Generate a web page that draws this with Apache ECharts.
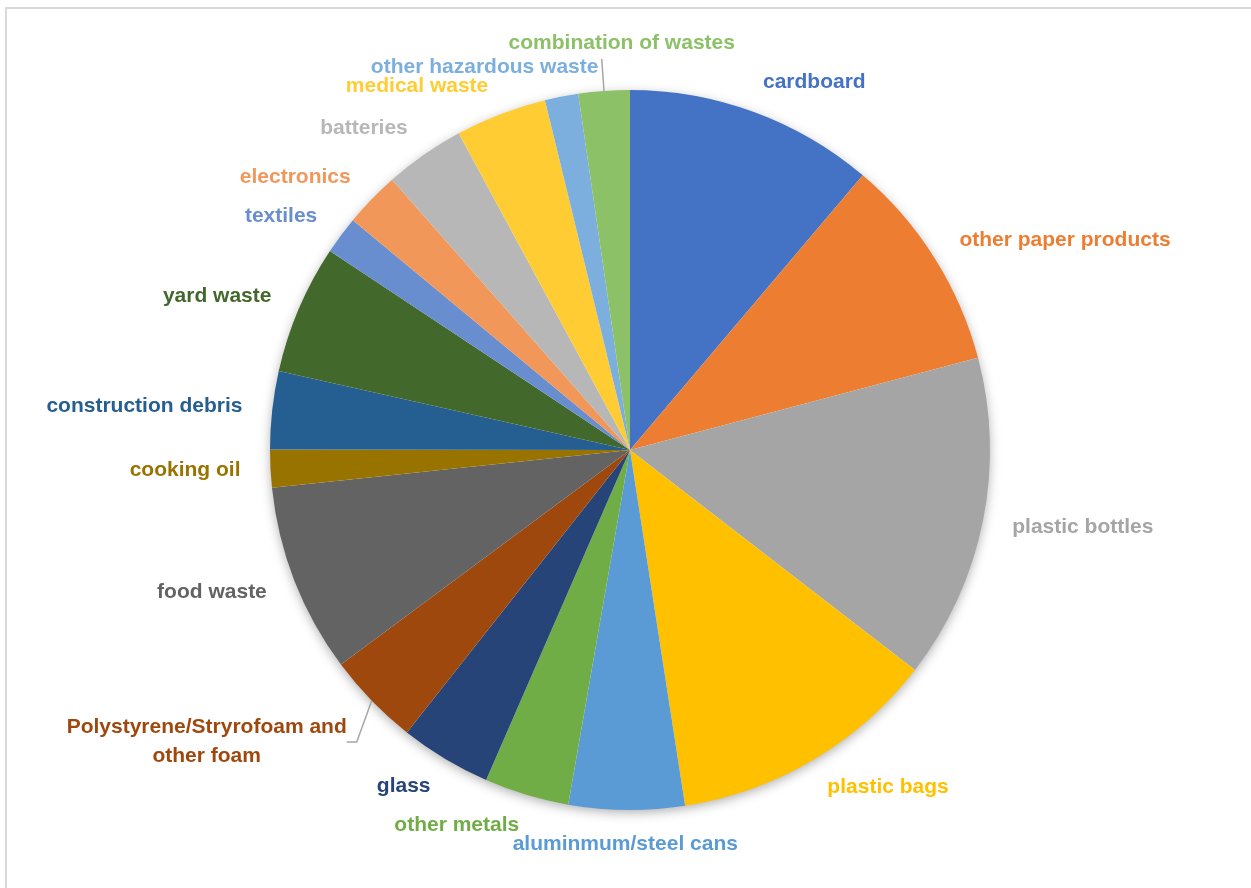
<!DOCTYPE html>
<html>
<head>
<meta charset="utf-8">
<script src="https://cdn.jsdelivr.net/npm/echarts@6/dist/echarts.min.js"></script>
<style>
html, body { margin: 0; padding: 0; background: #ffffff; }
body { width: 1251px; height: 888px; overflow: hidden; position: relative; }
#frame { position: absolute; left: 5px; top: 7px; width: 1300px; height: 1000px; border: 2px solid #d9d9d9; box-sizing: border-box; }
#chart { position: absolute; left: 0; top: 0; width: 1251px; height: 888px; }
</style>
</head>
<body>
<div id="frame"></div>
<div id="chart"></div>
<script>
// ---- data (share of total, %) ----
const categories = [
  'cardboard', 'other paper products', 'plastic bottles', 'plastic bags',
  'aluminmum/steel cans', 'other metals', 'glass',
  'Polystyrene/Stryrofoam and other foam', 'food waste', 'cooking oil',
  'construction debris', 'yard waste', 'textiles', 'electronics',
  'batteries', 'medical waste', 'other hazardous waste', 'combination of wastes'
];
const values = [11.2, 9.7, 14.6, 12.1, 5.2, 3.8, 4.1, 4.2, 8.5, 1.7, 3.5, 5.8, 1.7, 2.5, 3.6, 4.1, 1.5, 2.3];

// ---- styles ----
const colors = [
  '#4472C4', '#ED7D31', '#A5A5A5', '#FFC000', '#5B9BD5', '#70AD47', '#264478',
  '#9E480E', '#636363', '#997300', '#255E91', '#43682B', '#698ED0', '#F1975A',
  '#B7B7B7', '#FFCD33', '#7CAFDD', '#8CC168'
];
const FONT = '"Liberation Sans", Arial, sans-serif';

// labels that the original chart moved away from their default spot
const labelTweaks = {
  'aluminmum/steel cans': { dx: -3, dy: 2, align: 'center' },
  'medical waste': { dx: -3, dy: 2, align: 'right' },
  'other hazardous waste': { dx: 41, dy: 2, align: 'right' },
  'combination of wastes': { dx: 18, dy: -16, align: 'center', line: true, keepLine: true },
  'Polystyrene/Stryrofoam and other foam': { dx: -134, dy: 19, align: 'center', line: true, length2: 10 }
};

const chart = echarts.init(document.getElementById('chart'), null, { renderer: 'canvas' });

const pieData = categories.map(function (name, i) {
  const t = labelTweaks[name];
  const item = {
    name: name,
    value: values[i],
    itemStyle: { color: colors[i] },
    label: { color: colors[i] },
    labelLine: { show: !!(t && t.line) }
  };
  if (t && t.length2) item.labelLine.length2 = t.length2;
  return item;
});

const option = {
  backgroundColor: 'transparent',
  animation: false,
  series: [
    {
      // soft drop shadow behind the pie
      type: 'pie',
      silent: true,
      z: 1,
      center: [630, 450],
      radius: 359,
      startAngle: 90,
      label: { show: false },
      labelLine: { show: false },
      itemStyle: { color: '#ffffff', shadowBlur: 12, shadowColor: 'rgba(0,0,0,0.35)', shadowOffsetY: 3 },
      data: [{ value: 1, name: '' }]
    },
    {
      type: 'pie',
      z: 2,
      center: [630, 450],
      radius: 360,
      startAngle: 90,
      clockwise: true,
      avoidLabelOverlap: false,
      label: {
        show: true,
        position: 'outside',
        fontFamily: FONT,
        fontWeight: 'bold',
        fontSize: 21,
        lineHeight: 29,
        distanceToLabelLine: -2,
        formatter: function (p) { return p.name.replace(' and other', ' and\nother'); }
      },
      labelLine: {
        show: false,
        length: 32,
        length2: 0,
        smooth: false,
        lineStyle: { color: '#a6a6a6', width: 1.5 }
      },
      labelLayout: function (p) {
        const name = categories[p.dataIndex];
        const t = labelTweaks[name];
        if (!t) return {};
        const r = p.labelRect;
        const ax = p.align === 'right' ? r.x + r.width : (p.align === 'left' ? r.x : r.x + r.width / 2);
        const ay = r.y + r.height / 2;
        const out = { x: ax + t.dx, y: ay + t.dy, align: t.align, verticalAlign: 'middle' };
        if (t.keepLine && p.labelLinePoints) out.labelLinePoints = p.labelLinePoints;
        return out;
      },
      data: pieData
    }
  ]
};

chart.setOption(option);
</script>
</body>
</html>
